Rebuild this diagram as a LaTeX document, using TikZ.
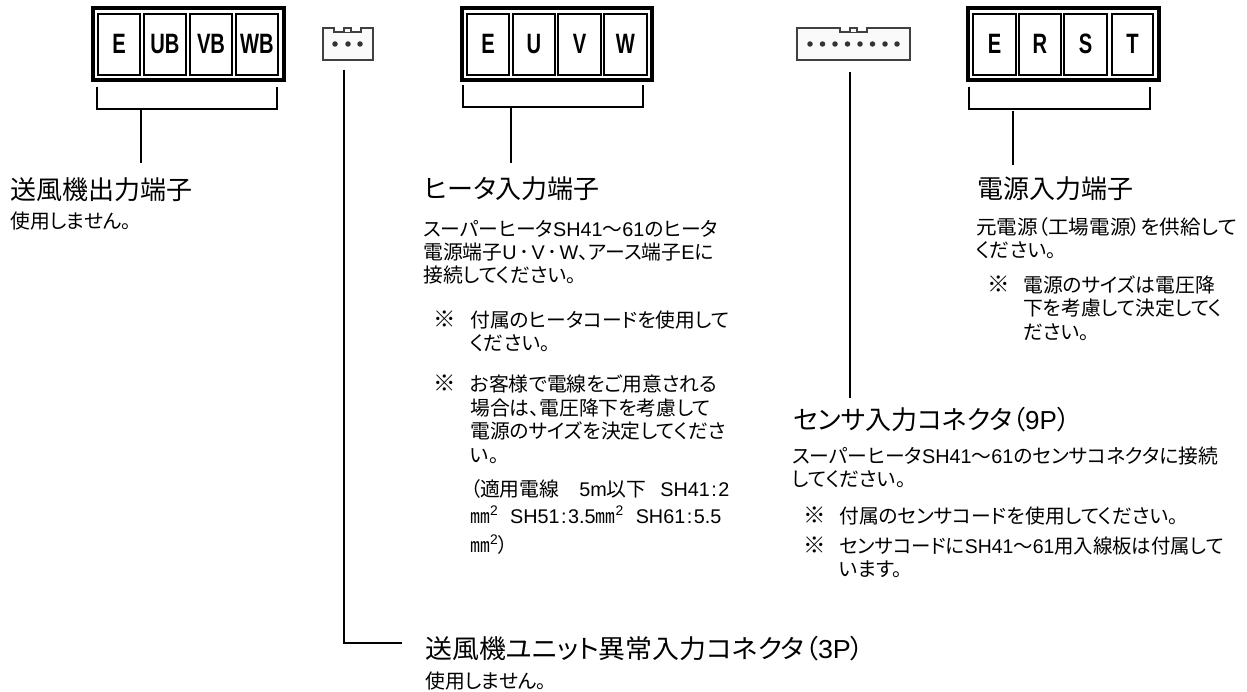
\documentclass[tikz,border=0pt]{standalone}
\usepackage{fontspec}
\setmainfont[RawFeature=+palt]{Noto Sans CJK JP}
\newfontfamily\latinf{Liberation Sans}
\newcommand{\lt}[1]{{\latinf #1}}
\newcommand{\mmsq}{㎜\textsuperscript{\lt{2}}}
\newcommand{\dotsep}{\hspace{2.5pt}･\hspace{2.5pt}}
\newcommand{\colsep}{\hspace{1.5pt}:\hspace{1.5pt}}
\tikzset{
 outerbox/.style={draw=black,line width=3.4pt,fill=white},
 cellbox/.style={draw=black,line width=2.6pt,fill=white},
 termtext/.style={font=\latinf\bfseries\fontsize{28}{28}\selectfont,inner sep=0pt,anchor=center,xscale=0.72},
 lead/.style={draw=black,line width=1.7pt},
 head/.style={font=\fontsize{26}{28}\selectfont,anchor=base west,inner sep=0pt},
 body/.style={font=\fontsize{19.8}{20}\selectfont,anchor=base west,inner sep=0pt},
 refmark/.style={font=\fontsize{22.5}{24}\selectfont,anchor=base west,inner sep=0pt},
 conn/.style={draw=black!75,line width=1.3pt,fill=black!2},
 pin/.style={circle,fill=black!80,inner sep=0pt,minimum size=5.5pt},
}
\begin{document}
\begin{tikzpicture}[x=1pt,y=-1pt]
\useasboundingbox (0,0) rectangle (1247,692);
% block 1
\draw[outerbox] (93,8) rectangle (284,80);
\foreach \a/\b/\t in {98/140/E,144/186/UB,190/232/VB,236/278/WB}{
 \draw[cellbox] (\a,14) rectangle (\b,75);
 \node[termtext] at ({(\a+\b)/2},44) {\t};
}
\draw[lead] (97,87) |- (277,109) -- (277,87);
\draw[lead] (141,109) -- (141,163);
% block 2
\draw[outerbox] (462,8) rectangle (652,80);
\foreach \a/\b/\t in {467/509/E,513/555/U,558/601/V,604/647/W}{
 \draw[cellbox] (\a,14) rectangle (\b,75);
 \node[termtext] at ({(\a+\b)/2},44) {\t};
}
\draw[lead] (463,85) |- (643,107) -- (643,85);
\draw[lead] (511,107) -- (511,163);
% block 3
\draw[outerbox] (968,8) rectangle (1159,80);
\foreach \a/\b/\t in {973/1016/E,1019/1061/R,1064/1107/S,1112/1153/T}{
 \draw[cellbox] (\a,14) rectangle (\b,75);
 \node[termtext] at ({(\a+\b)/2},44) {\t};
}
\draw[lead] (969,87) |- (1150,109) -- (1150,87);
\draw[lead] (1013,111) -- (1013,165);
% 3P
\draw[conn] (323,28) -- (334,28) -- (334,32) -- (361,32) -- (361,28) -- (373,28) -- (373,60) -- (323,60) -- cycle;
\draw[conn] (344,32) -- (344,28) -- (351,28) -- (351,32);
\foreach \x in {335,348,360} \node[pin] at (\x,44) {};
% 9P
\draw[conn] (797,28) -- (840,28) -- (840,32) -- (867,32) -- (867,28) -- (910,28) -- (910,60) -- (797,60) -- cycle;
\draw[conn] (850,32) -- (850,28) -- (857,28) -- (857,32);
\foreach \x in {810,822.5,835,847.5,860,872.5,885,897} \node[pin] at (\x,44) {};
% leaders
\draw[lead] (344,70) -- (344,643) -- (402,643);
\draw[lead] (850,72) -- (850,398);
% texts
\node[head] at (10,200) {送風機出力端子};
\node[body] at (10,229) {使用しません。};
\node[head] at (424,199) {ヒータ入力端子};
\node[body] at (423,237) {スーパーヒータ\lt{SH41}～\lt{61}のヒータ};
\node[body] at (423,260) {電源端子\lt{U}\dotsep\lt{V}\dotsep\lt{W}、アース端子\lt{E}に};
\node[body] at (423,283) {接続してください。};
\node[refmark] at (433,328) {※};
\node[body] at (470,328) {付属のヒータコードを使用して};
\node[body] at (470,351) {ください。};
\node[refmark] at (433,391) {※};
\node[body] at (470,391) {お客様で電線をご用意される};
\node[body] at (470,415) {場合は、電圧降下を考慮して};
\node[body] at (470,438) {電源のサイズを決定してくださ};
\node[body] at (470,462) {い。};
\node[body] at (470,496) {（適用電線\hspace{20pt}\lt{5m}以下\hspace{14pt}\lt{SH41\colsep 2}};
\node[body] at (470,523) {\mmsq\hspace{12pt}\lt{SH51\colsep 3.5}\mmsq\hspace{12pt}\lt{SH61\colsep 5.5}};
\node[body] at (470,552) {\mmsq）};
\node[head] at (977,199) {電源入力端子};
\node[body,xscale=1.04] at (976,235) {元電源（工場電源）を供給して};
\node[body] at (976,258) {ください。};
\node[refmark] at (987,293) {※};
\node[body] at (1023,293) {電源のサイズは電圧降};
\node[body] at (1023,316) {下を考慮して決定してく};
\node[body] at (1023,340) {ださい。};
\node[head] at (793,429) {センサ入力コネクタ（\lt{9P}）};
\node[body] at (792,463) {スーパーヒータ\lt{SH41}～\lt{61}のセンサコネクタに接続};
\node[body] at (792,486) {してください。};
\node[refmark] at (803,523) {※};
\node[body] at (839,523) {付属のセンサコードを使用してください。};
\node[refmark] at (803,553) {※};
\node[body,xscale=0.98] at (839,553) {センサコードに\lt{SH41}～\lt{61}用入線板は付属して};
\node[body] at (839,576) {います。};
\node[head,xscale=1.035] at (425,658) {送風機ユニット異常入力コネクタ（\lt{3P}）};
\node[body] at (425,688) {使用しません。};
\end{tikzpicture}
\end{document}
